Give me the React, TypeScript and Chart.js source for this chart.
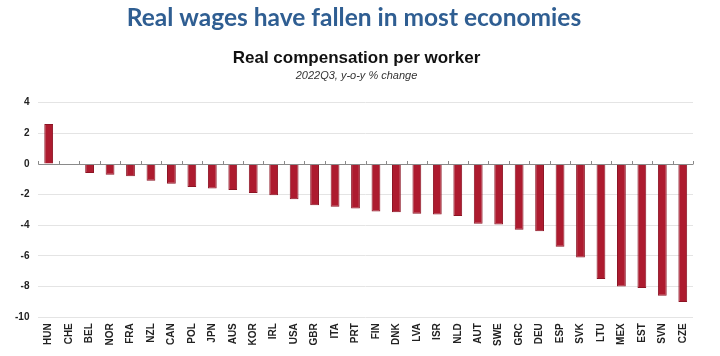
import React, { useEffect, useRef } from "react";
import { Chart, registerables } from "chart.js";

Chart.register(...registerables);

const mainTitle = "Real wages have fallen in most economies";
const chartTitle = "Real compensation per worker";
const chartSubtitle = "2022Q3, y-o-y % change";

const countries = [
  "HUN", "CHE", "BEL", "NOR", "FRA", "NZL", "CAN", "POL", "JPN", "AUS", "KOR",
  "IRL", "USA", "GBR", "ITA", "PRT", "FIN", "DNK", "LVA", "ISR", "NLD", "AUT",
  "SWE", "GRC", "DEU", "ESP", "SVK", "LTU", "MEX", "EST", "SVN", "CZE",
];

const realCompensation = [
  2.6, -0.05, -0.6, -0.7, -0.8, -1.1, -1.3, -1.5, -1.6, -1.7, -1.9,
  -2.05, -2.3, -2.7, -2.8, -2.9, -3.1, -3.15, -3.25, -3.3, -3.4, -3.9,
  -3.95, -4.3, -4.4, -5.4, -6.1, -7.5, -8.0, -8.1, -8.6, -9.0,
];

const yMin = -10;
const yMax = 4;
const yStep = 2;

const mainTitlePlugin = {
  id: "mainTitle",
  afterDraw(chart: any) {
    const ctx = chart.ctx;
    ctx.save();
    ctx.fillStyle = "#2f5e92";
    ctx.font = "bold 24.5px Lato, 'Open Sans', sans-serif";
    ctx.textAlign = "center";
    ctx.textBaseline = "middle";
    ctx.fillText(mainTitle, 354, 18);
    ctx.restore();
  },
};

const zeroTicksPlugin = {
  id: "zeroTicks",
  afterDatasetsDraw(chart: any) {
    const x = chart.scales.x;
    const y = chart.scales.y;
    const ctx = chart.ctx;
    const y0 = y.getPixelForValue(0);
    ctx.save();
    ctx.strokeStyle = "#8a8a8a";
    ctx.lineWidth = 1;
    ctx.beginPath();
    ctx.moveTo(chart.chartArea.left, Math.round(y0) + 0.5);
    ctx.lineTo(chart.chartArea.right, Math.round(y0) + 0.5);
    const n = countries.length;
    for (let i = 0; i <= n; i++) {
      let px;
      if (i === 0) px = chart.chartArea.left;
      else if (i === n) px = chart.chartArea.right;
      else px = (x.getPixelForValue(i - 1) + x.getPixelForValue(i)) / 2;
      px = Math.round(px) + 0.5;
      ctx.moveTo(px, Math.round(y0) + 0.5);
      ctx.lineTo(px, Math.round(y0) - 3);
    }
    ctx.stroke();
    ctx.restore();
  },
};

export default function App() {
  const ref = useRef<HTMLCanvasElement | null>(null);

  useEffect(() => {
    if (!ref.current) return;
    const chart = new Chart(ref.current, {
      type: "bar",
      data: {
        labels: countries,
        datasets: [
          {
            data: realCompensation,
            backgroundColor: "#ad1b2f",
            borderColor: "#8c1424",
            borderWidth: 1,
            barPercentage: 0.43,
            categoryPercentage: 1,
          },
        ],
      },
      options: {
        animation: false,
        responsive: false,
        maintainAspectRatio: false,
        layout: { padding: { top: 41, left: 6, right: 13, bottom: 4 } },
        plugins: {
          legend: { display: false },
          tooltip: { enabled: false },
          title: {
            display: true,
            text: chartTitle,
            color: "#111",
            font: { family: "'Liberation Sans', Arial, sans-serif", size: 17, weight: "bold" },
            padding: { top: 7, bottom: 0 },
          },
          subtitle: {
            display: true,
            text: chartSubtitle,
            color: "#333",
            font: { family: "'Liberation Sans', Arial, sans-serif", size: 11, style: "italic" },
            padding: { top: 1, bottom: 20 },
          },
        },
        scales: {
          x: {
            grid: { display: false, drawTicks: false },
            border: { display: false },
            ticks: {
              color: "#222",
              font: { family: "'Liberation Sans', Arial, sans-serif", size: 10, weight: "bold" },
              minRotation: 90,
              maxRotation: 90,
              autoSkip: false,
              padding: 6,
            },
          },
          y: {
            min: yMin,
            max: yMax,
            border: { display: false },
            grid: {
              drawTicks: false,
              color: (c: any) => (c.tick && c.tick.value === 0 ? "rgba(0,0,0,0)" : "#e4e4e4"),
              lineWidth: 1,
            },
            ticks: {
              stepSize: yStep,
              color: "#222",
              padding: 9,
              font: { family: "'Liberation Sans', Arial, sans-serif", size: 10, weight: "bold" },
            },
          },
          yRight: {
            position: "right",
            min: yMin,
            max: yMax,
            display: true,
            border: { display: false },
            grid: { display: false, drawTicks: false },
            ticks: { display: false },
            afterFit: (s: any) => {
              s.width = 14;
            },
          },
        },
      },
      plugins: [mainTitlePlugin, zeroTicksPlugin],
    });
    return () => chart.destroy();
  }, []);

  return (
    <div style={{ position: "fixed", left: 0, top: 0, width: 720, height: 356, background: "#fff" }}>
      <canvas ref={ref} width={720} height={356} style={{ width: 720, height: 356, display: "block" }} />
    </div>
  );
}
